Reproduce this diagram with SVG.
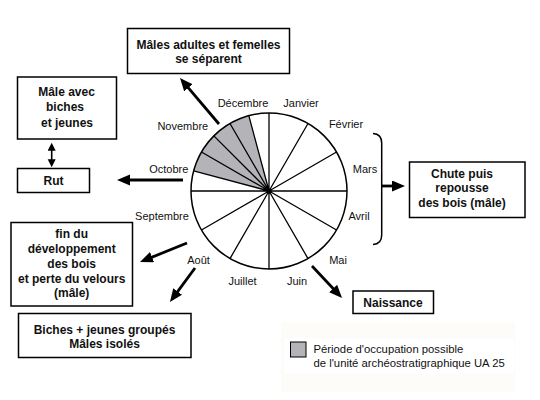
<svg xmlns="http://www.w3.org/2000/svg" width="540" height="400" viewBox="0 0 540 400">
<defs>
<marker id="ah" markerUnits="userSpaceOnUse" markerWidth="14" markerHeight="12" refX="2" refY="5.5" orient="auto"><path d="M0,0 L13,5.5 L0,11 z" fill="#000"/></marker>
<marker id="ahs" markerUnits="userSpaceOnUse" markerWidth="9" markerHeight="9" refX="1" refY="4" orient="auto-start-reverse"><path d="M0,0 L8,4 L0,8 z" fill="#000"/></marker>
<style>
.box{fill:#fff;stroke:#000;stroke-width:1.5}
.bt{font-family:"Liberation Sans",Arial,sans-serif;font-weight:bold;font-size:12px;fill:#111;text-anchor:middle}
.mt{font-family:"Liberation Sans",Arial,sans-serif;font-size:11px;fill:#111;text-anchor:middle}
.lt{font-family:"Liberation Sans",Arial,sans-serif;font-size:11.3px;fill:#111}
.sp{stroke:#000;stroke-width:1.3;fill:none}
.arr{stroke:#000;stroke-width:2.8;fill:none;marker-end:url(#ah)}
</style>
</defs>
<rect width="540" height="400" fill="#fff"/>
<g id="legend-bg">
<rect x="281" y="322" width="234" height="70" fill="#fdfcf9"/>
<rect x="284" y="338" width="230" height="36" fill="#fff"/>
</g>
<g id="wheel">
<path d="M269,191 L193.66,170.81 A78,78 0 0 1 248.81,115.66 Z" fill="#b4b4b8"/>
<circle cx="269" cy="191" r="78" fill="none" stroke="#000" stroke-width="1.5"/>
<path class="sp" d="M269,113 L269,269 M191,191 L347,191 M269,191 L308,123.45 M269,191 L336.55,152 M269,191 L336.55,230 M269,191 L308,258.55 M269,191 L230,258.55 M269,191 L201.45,230 M269,191 L193.66,170.81 M269,191 L201.45,152 M269,191 L213.85,135.85 M269,191 L230,123.45 M269,191 L248.81,115.66"/>
<circle cx="269" cy="191" r="2" fill="#000"/>
</g>
<g id="months">
<text class="mt" x="243" y="106.5">Décembre</text>
<text class="mt" x="301" y="106.5">Janvier</text>
<text class="mt" x="346" y="127.5">Février</text>
<text class="mt" x="365" y="173">Mars</text>
<text class="mt" x="359" y="219.5">Avril</text>
<text class="mt" x="338" y="264">Mai</text>
<text class="mt" x="297" y="284.5">Juin</text>
<text class="mt" x="242.5" y="284.5">Juillet</text>
<text class="mt" x="198.5" y="264">Août</text>
<text class="mt" x="162" y="219.5">Septembre</text>
<text class="mt" x="168.8" y="173">Octobre</text>
<text class="mt" x="182.8" y="130">Novembre</text>
</g>
<g id="bracket">
<path d="M373,133.5 Q381.7,134 381.7,143 L381.7,235 Q381.7,244 373,244.5" fill="none" stroke="#000" stroke-width="1.5"/>
</g>
<g id="connectors">
<line class="arr" x1="219" y1="124" x2="187.1" y2="86.4"/>
<line class="arr" x1="183" y1="180" x2="128" y2="180"/>
<line class="arr" x1="187" y1="243" x2="150.2" y2="257.9"/>
<line class="arr" x1="195" y1="268" x2="176.5" y2="293.1"/>
<line class="arr" x1="312" y1="266" x2="334.5" y2="290"/>
<line class="arr" x1="381.7" y1="186" x2="394" y2="186"/>
<line x1="51.7" y1="149.7" x2="51.7" y2="160.3" stroke="#000" stroke-width="1.6" marker-start="url(#ahs)" marker-end="url(#ahs)"/>
</g>
<g id="n-separent">
<rect class="box" x="127.5" y="28.5" width="162" height="45"/>
<text class="bt" x="208.5" y="48.5">Mâles adultes et femelles</text>
<text class="bt" x="208.5" y="62.5">se séparent</text>
</g>
<g id="n-male-avec">
<rect class="box" x="17.5" y="77" width="99" height="62"/>
<text class="bt" x="66.5" y="96">Mâle avec</text>
<text class="bt" x="65" y="111">biches</text>
<text class="bt" x="67" y="126.5">et jeunes</text>
</g>
<g id="n-rut">
<rect class="box" x="17.5" y="168.5" width="72" height="24"/>
<text class="bt" x="53.5" y="184.5">Rut</text>
</g>
<g id="n-chute">
<rect class="box" x="409.5" y="162" width="115.5" height="55.5"/>
<text class="bt" x="462" y="177.5">Chute puis</text>
<text class="bt" x="462" y="192">repousse</text>
<text class="bt" x="462" y="207">des bois (mâle)</text>
</g>
<g id="n-fin">
<rect class="box" x="11" y="222.5" width="121.5" height="83.5"/>
<text class="bt" x="71.7" y="238">fin du</text>
<text class="bt" x="71.7" y="252.5">développement</text>
<text class="bt" x="71.7" y="267.5">des bois</text>
<text class="bt" x="71.7" y="282.5">et perte du velours</text>
<text class="bt" x="71.7" y="297">(mâle)</text>
</g>
<g id="n-biches">
<rect class="box" x="18.5" y="313.5" width="172.5" height="44"/>
<text class="bt" x="104.5" y="334">Biches + jeunes groupés</text>
<text class="bt" x="104.5" y="347.5">Mâles isolés</text>
</g>
<g id="n-naissance">
<rect class="box" x="353" y="291" width="80.5" height="22.5"/>
<text class="bt" x="393" y="306.5">Naissance</text>
</g>
<g id="legend">
<rect x="290.5" y="342" width="15.5" height="15" fill="#b4b4b8" stroke="#000" stroke-width="1"/>
<text class="lt" x="313.5" y="353">Période d'occupation possible</text>
<text class="lt" x="313.5" y="366.5">de l'unité archéostratigraphique UA 25</text>
</g>
</svg>
